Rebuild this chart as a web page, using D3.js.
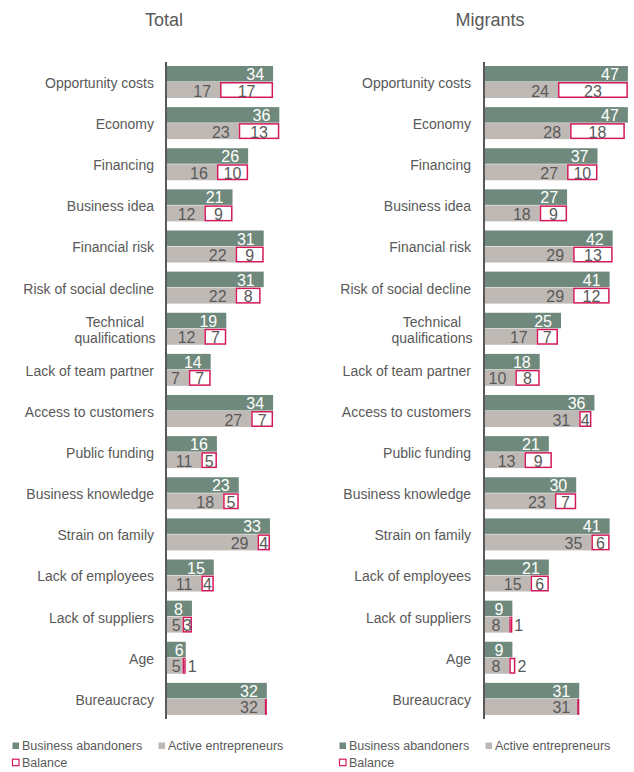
<!DOCTYPE html>
<html lang="en">
<head>
<meta charset="UTF-8">
<title>Obstacles: abandoners vs active entrepreneurs</title>
<script src="https://d3js.org/d3.v7.min.js"></script>
<style>
  body { margin: 0; background: #fff; font-family: "Liberation Sans", Arial, sans-serif; }
  text { fill: #595959; }
</style>
</head>
<body>
<div id="chart"></div>
<script>
// categories (top to bottom)
const categories = ["Opportunity costs", "Economy", "Financing", "Business idea", "Financial risk",
  "Risk of social decline", "Technical qualifications", "Lack of team partner", "Access to customers",
  "Public funding", "Business knowledge", "Strain on family", "Lack of employees",
  "Lack of suppliers", "Age", "Bureaucracy"];

const totalAbandoners = [34, 36, 26, 21, 31, 31, 19, 14, 34, 16, 23, 33, 15, 8, 6, 32];
const totalActive     = [17, 23, 16, 12, 22, 22, 12, 7, 27, 11, 18, 29, 11, 5, 5, 32];
const totalBalance    = [17, 13, 10, 9, 9, 8, 7, 7, 7, 5, 5, 4, 4, 3, 1, 0];

const migrantAbandoners = [47, 47, 37, 27, 42, 41, 25, 18, 36, 21, 30, 41, 21, 9, 9, 31];
const migrantActive     = [24, 28, 27, 18, 29, 29, 17, 10, 31, 13, 23, 35, 15, 8, 8, 31];
const migrantBalance    = [23, 18, 10, 9, 13, 12, 7, 8, 4, 9, 7, 6, 6, 1, 2, 0];

const seriesNames = ["Business abandoners", "Active entrepreneurs", "Balance"];

const darkCol = "#6f8a7c", greyCol = "#bfb9b5", redCol = "#d2195a", textCol = "#595959";

const svg = d3.select("#chart").append("svg")
  .attr("width", 634).attr("height", 772);

const y = d3.scaleBand().domain(categories).range([62, 720]);

function drawPanel(title, titleX, x0, xMax, labelRight, aband, active, bal, legendX) {
  const x = d3.scaleLinear().domain([0, 50]).range([x0, xMax]);
  const g = svg.append("g");
  const rows = categories.map((c, i) => ({ cat: c, a: aband[i], b: active[i], d: bal[i] }));

  g.append("text")
    .attr("x", titleX)
    .attr("y", 26)
    .attr("text-anchor", "middle")
    .attr("font-size", 18)
    .text(title);

  // category labels
  rows.forEach(r => {
    const lines = r.cat === "Technical qualifications" ? ["Technical", "qualifications"] : [r.cat];
    const cy = y(r.cat) + 21;
    lines.forEach((ln, k) => {
      g.append("text")
        .attr("x", labelRight)
        .attr("y", cy + (k - (lines.length - 1) / 2) * 16)
        .attr("dy", "0.35em")
        .attr("text-anchor", lines.length > 1 ? "middle" : "end")
        .attr("dx", lines.length > 1 ? -39 : 0)
        .attr("font-size", 14)
        .text(ln);
    });
  });

  // abandoners bars
  g.selectAll(".ab").data(rows).join("rect")
    .attr("x", x(0)).attr("y", d => y(d.cat) + 4)
    .attr("width", d => x(d.a) - x(0)).attr("height", 15.5)
    .attr("fill", darkCol);

  // active bars
  g.selectAll(".ac").data(rows).join("rect")
    .attr("x", x(0)).attr("y", d => y(d.cat) + 20)
    .attr("width", d => x(d.b) - x(0)).attr("height", 16)
    .attr("fill", greyCol);

  // balance boxes
  rows.forEach(r => {
    const bx0 = x(r.b), bx1 = x(r.b + r.d);
    if (r.d === 0) {
      g.append("line")
        .attr("x1", bx0 - 1).attr("x2", bx0 - 1)
        .attr("y1", y(r.cat) + 20).attr("y2", y(r.cat) + 36)
        .attr("stroke", redCol).attr("stroke-width", 2);
    } else {
      g.append("rect")
        .attr("x", bx0 + 0.75).attr("y", y(r.cat) + 20.75)
        .attr("width", Math.max(bx1 - bx0 - 1.5, 1.5)).attr("height", 14.5)
        .attr("fill", "#fff").attr("stroke", redCol).attr("stroke-width", 1.5);
      const small = bx1 - bx0 < 9;
      g.append("text")
        .attr("x", small ? bx1 + 2 : (bx0 + bx1) / 2)
        .attr("y", y(r.cat) + 34.5)
        .attr("text-anchor", small ? "start" : "middle")
        .attr("font-size", 16)
        .text(r.d);
    }
  });

  // value labels
  const endLabel = (v, yOff, fill) => {
    rows.forEach(r => {
      const val = v(r);
      const end = x(val);
      const w = String(val).length * 8.9;
      const px = (end - 9 - w < x(0) + 1) ? end - 2 : end - 9;
      g.append("text")
        .attr("x", px).attr("y", y(r.cat) + yOff)
        .attr("text-anchor", "end")
        .attr("font-size", 16)
        .style("fill", fill)
        .text(val);
    });
  };
  endLabel(r => r.a, 18, "#fff");
  endLabel(r => r.b, 34.5, textCol);

  // axis spine
  g.append("line")
    .attr("x1", x0 - 1).attr("x2", x0 - 1)
    .attr("y1", 62).attr("y2", 719)
    .attr("stroke", textCol).attr("stroke-width", 2);

  // legend
  const lg = g.append("g").attr("font-size", 12.5);
  const items = [
    { name: seriesNames[0], dx: 0, dy: 0, fill: darkCol, stroke: "none" },
    { name: seriesNames[1], dx: 146, dy: 0, fill: greyCol, stroke: "none" },
    { name: seriesNames[2], dx: 0, dy: 16.7, fill: "#fff", stroke: redCol }
  ];
  items.forEach(it => {
    lg.append("rect")
      .attr("x", legendX + it.dx + 0.5).attr("y", 742.5 + it.dy)
      .attr("width", 6.5).attr("height", 6.5)
      .attr("fill", it.fill).attr("stroke", it.stroke).attr("stroke-width", 1.2);
    lg.append("text")
      .attr("x", legendX + it.dx + 10).attr("y", 750 + it.dy)
      .text(it.name);
  });
}

drawPanel("Total", 164, 167, 323, 154, totalAbandoners, totalActive, totalBalance, 12);
drawPanel("Migrants", 490, 485, 637, 471, migrantAbandoners, migrantActive, migrantBalance, 339);
</script>
</body>
</html>
